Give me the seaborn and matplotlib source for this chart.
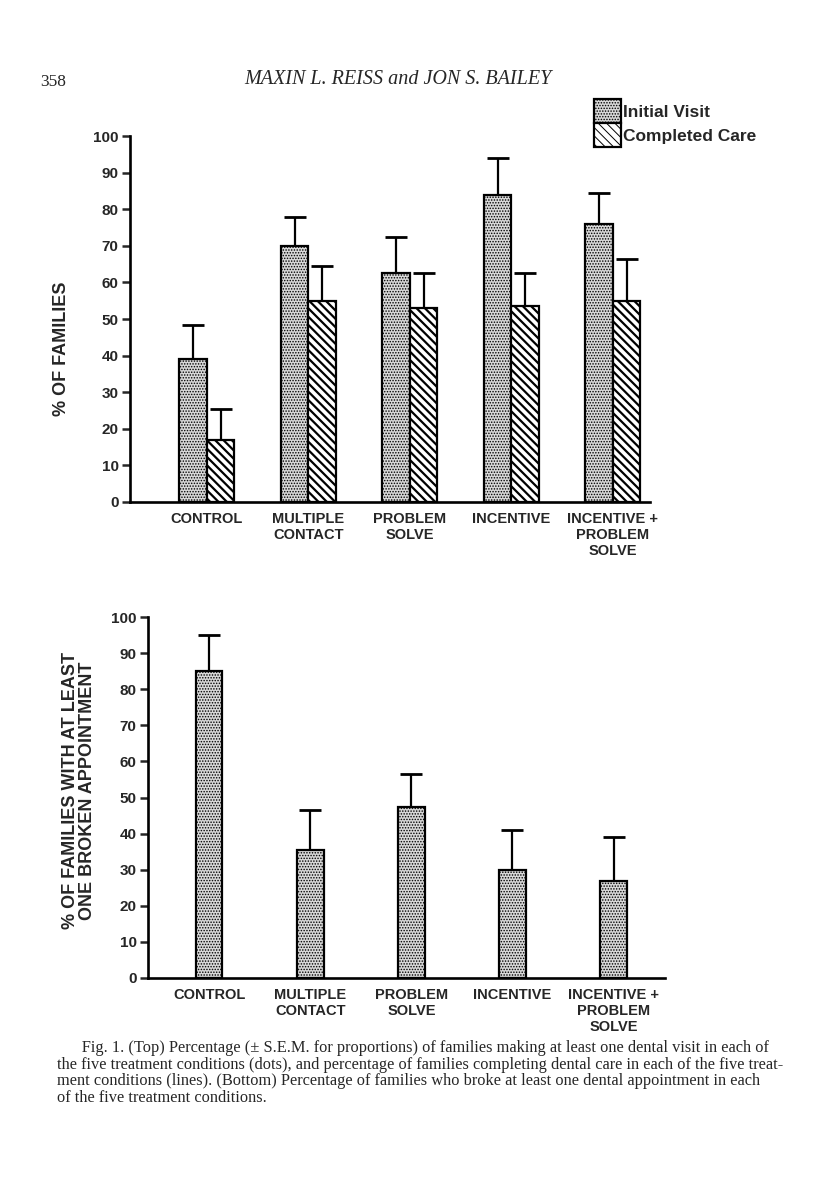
import matplotlib
matplotlib.use('Agg')
import matplotlib.pyplot as plt
from matplotlib.patches import Patch
import numpy as np
import pandas as pd
import seaborn as sns

# values
conditions = ['CONTROL', 'MULTIPLE\nCONTACT', 'PROBLEM\nSOLVE',
              'INCENTIVE', 'INCENTIVE +\nPROBLEM\nSOLVE']
series = ['Initial Visit', 'Completed Care']
initial_visit = [39, 70, 62.5, 84, 76]
initial_visit_top = [48.5, 78, 72.5, 94, 84.5]
completed_care = [17, 55, 53, 53.5, 55]
completed_care_top = [25.5, 64.5, 62.5, 62.5, 66.5]
broken_appt = [85, 35.5, 47.5, 30, 27]
broken_appt_top = [95, 46.5, 56.5, 41, 39]
yticks = list(range(0, 101, 10))

caption = ('      Fig. 1. (Top) Percentage (\u00b1 S.E.M. for proportions) of families making at least one dental visit in each of\n'
           'the five treatment conditions (dots), and percentage of families completing dental care in each of the five treat-\n'
           'ment conditions (lines). (Bottom) Percentage of families who broke at least one dental appointment in each\n'
           'of the five treatment conditions.')

sns.set_style('white')
plt.rcParams['font.family'] = ['Liberation Sans', 'DejaVu Sans']
plt.rcParams['hatch.linewidth'] = 1.6

DOT_FACE = '#d8d8d8'
DOT_HATCH = '......'
LINE_HATCH = '\\\\\\\\'


def thin_dots(patch):
    # finer stipple for the dotted bars
    if hasattr(patch, 'set_hatch_linewidth'):
        patch.set_hatch_linewidth(0.7)


def style_axis(ax):
    sns.despine(ax=ax, top=True, right=True)
    for s in ['left', 'bottom']:
        ax.spines[s].set_linewidth(1.9)
        ax.spines[s].set_color('black')
    ax.set_ylim(0, 100)
    ax.set_yticks(yticks)
    ax.set_yticklabels([str(v) for v in yticks])
    ax.tick_params(axis='y', left=True, length=6, width=1.8, pad=2,
                   labelsize=11)
    ax.tick_params(axis='x', bottom=False, length=0, pad=7, labelsize=10.5)
    for lab in ax.get_yticklabels() + ax.get_xticklabels():
        lab.set_fontweight('bold')
    ax.set_xlabel('')


def add_errors(ax, container, tops):
    xs = [p.get_x() + p.get_width() / 2 for p in container]
    hs = np.array([p.get_height() for p in container])
    up = np.array(tops) - hs
    ax.errorbar(xs, hs, yerr=[np.zeros_like(up), up], fmt='none',
                ecolor='black', elinewidth=1.6, capsize=8, capthick=2.0,
                zorder=1)


fig = plt.figure(figsize=(8.16, 11.95), dpi=100)

# ---------------- top panel ----------------
ax1 = fig.add_axes([0.159, 0.580, 0.638, 0.306])
df_top = pd.DataFrame({
    'condition': conditions * 2,
    'series': [series[0]] * 5 + [series[1]] * 5,
    'pct': initial_visit + completed_care,
})
sns.barplot(data=df_top, x='condition', y='pct', hue='series',
            order=conditions, hue_order=series, width=0.54, gap=0,
            palette=[DOT_FACE, 'white'], edgecolor='black', linewidth=1.6,
            saturation=1, legend=False, ax=ax1, zorder=3)
for cont, hatch in zip(ax1.containers, [DOT_HATCH, LINE_HATCH]):
    for p in cont:
        p.set_hatch(hatch)
        if hatch == DOT_HATCH:
            thin_dots(p)
add_errors(ax1, ax1.containers[0], initial_visit_top)
add_errors(ax1, ax1.containers[1], completed_care_top)
ax1.set_xlim(-0.76, 4.37)
style_axis(ax1)
ax1.set_ylabel('% OF FAMILIES', fontsize=13, fontweight='bold')
ax1.yaxis.set_label_coords(-0.115, 0.42)

handles = [Patch(facecolor=DOT_FACE, edgecolor='black', hatch=DOT_HATCH,
                 linewidth=1.6),
           Patch(facecolor='white', edgecolor='black', hatch=LINE_HATCH,
                 linewidth=1.6)]
thin_dots(handles[0])
leg = fig.legend(handles, series, loc='upper left',
                 bbox_to_anchor=(594 / 816, 1 - 99 / 1195), frameon=False,
                 handlelength=1.55, handleheight=1.75, labelspacing=0.0,
                 handletextpad=0.12, borderpad=0, borderaxespad=0,
                 prop={'weight': 'heavy', 'size': 12.5})
for p in leg.get_patches():
    thin_dots(p)

# ---------------- bottom panel ----------------
ax2 = fig.add_axes([0.181, 0.1816, 0.634, 0.302])
df_bot = pd.DataFrame({'condition': conditions, 'pct': broken_appt})
sns.barplot(data=df_bot, x='condition', y='pct', order=conditions,
            width=0.26, color=DOT_FACE, edgecolor='black', linewidth=1.6,
            saturation=1, ax=ax2, zorder=3)
for p in ax2.containers[0]:
    p.set_hatch(DOT_HATCH)
    thin_dots(p)
add_errors(ax2, ax2.containers[0], broken_appt_top)
ax2.set_xlim(-0.61, 4.51)
style_axis(ax2)
ax2.set_ylabel('% OF FAMILIES WITH AT LEAST\nONE BROKEN APPOINTMENT',
               fontsize=13, fontweight='bold', linespacing=1.0)
ax2.yaxis.set_label_coords(-0.10, 0.52)

# ---------------- page text ----------------
fig.text(40 / 816, 1 - 82 / 1195, '358', family='Liberation Serif',
         fontsize=12.5, va='center', ha='left')
fig.text(398 / 816, 1 - 80 / 1195, 'MAXIN L. REISS and JON S. BAILEY',
         family='Liberation Serif', style='italic', fontsize=14.5,
         va='center', ha='center')
fig.text(57 / 816, 1 - 1040 / 1195, caption, family='Liberation Serif',
         fontsize=11.75, va='top', ha='left', linespacing=1.06)

fig.savefig('out.png', dpi=100)
plt.close(fig)
